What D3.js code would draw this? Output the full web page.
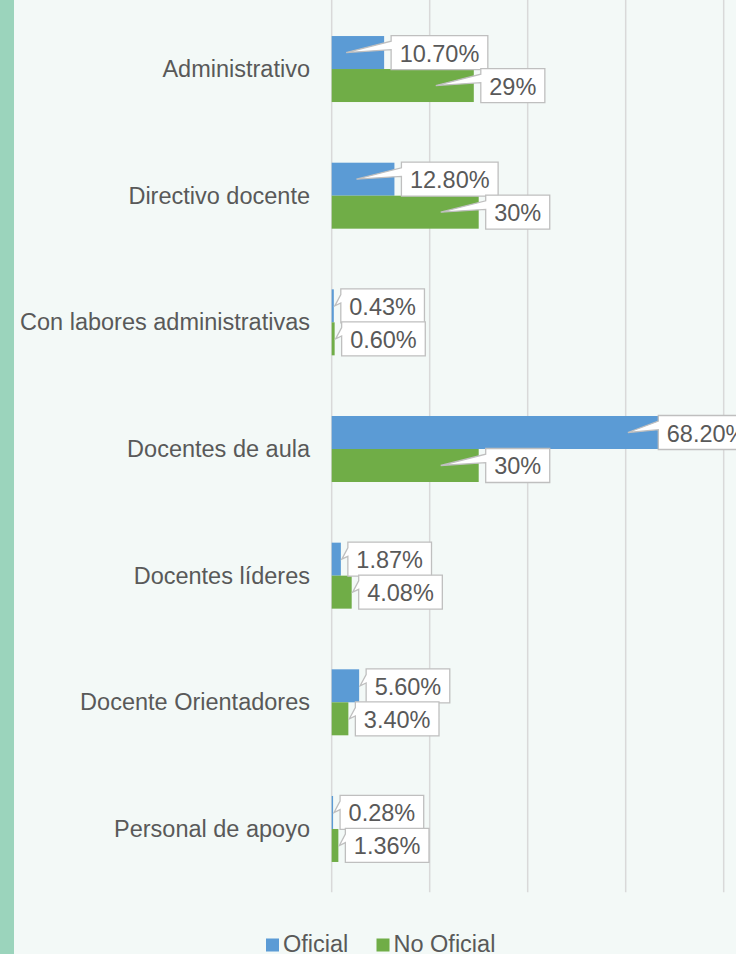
<!DOCTYPE html>
<html>
<head>
<meta charset="utf-8">
<script src="https://cdn.jsdelivr.net/npm/d3@7"></script>
<style>
  html, body { margin: 0; padding: 0; background: #f3f9f7; }
  svg { display: block; font-family: "Liberation Sans", Arial, sans-serif; }
</style>
</head>
<body>
<svg id="chart" width="736" height="954"></svg>
<script>
const categories = ["Administrativo", "Directivo docente", "Con labores administrativas", "Docentes de aula", "Docentes líderes", "Docente Orientadores", "Personal de apoyo"];
const seriesNames = ["Oficial", "No Oficial"];
const oficial = [10.7, 12.8, 0.43, 68.2, 1.87, 5.6, 0.28];
const noOficial = [29, 30, 0.6, 30, 4.08, 3.4, 1.36];
const oficialLabels = ["10.70%", "12.80%", "0.43%", "68.20%", "1.87%", "5.60%", "0.28%"];
const noOficialLabels = ["29%", "30%", "0.60%", "30%", "4.08%", "3.40%", "1.36%"];
const xTicks = [0, 20, 40, 60, 80, 100];

const colors = { "Oficial": "#5b9bd5", "No Oficial": "#70ad47" };
const textColor = "#595959";
const fontSize = 23.5;

const svg = d3.select("#chart");
const width = 736, height = 954;

// left teal strip
svg.append("rect").attr("x", 0).attr("y", 0).attr("width", 14).attr("height", height).attr("fill", "#9bd4bc");

const x = d3.scaleLinear().domain([0, 100]).range([331.7, 821.7]);
const y = d3.scaleBand().domain(categories).range([5.7, 892.3]).paddingInner(0.479).paddingOuter(0.2395);
const ySub = d3.scaleBand().domain(seriesNames).range([0, y.bandwidth()]);

// gridlines
svg.append("g").selectAll("line")
  .data(xTicks)
  .join("line")
  .attr("x1", (d) => x(d)).attr("x2", (d) => x(d))
  .attr("y1", 0).attr("y2", 892.3)
  .attr("stroke", "#d9d9d9").attr("stroke-width", 1.5);

// category labels
svg.append("g").selectAll("text")
  .data(categories)
  .join("text")
  .attr("x", 310)
  .attr("y", (d) => y(d) + y.bandwidth() / 2)
  .attr("text-anchor", "end")
  .attr("dominant-baseline", "central")
  .attr("fill", textColor)
  .attr("font-size", fontSize)
  .text((d) => d);

const rows = [];
categories.forEach((cat, i) => {
  rows.push({ cat, series: "Oficial", value: oficial[i], label: oficialLabels[i] });
  rows.push({ cat, series: "No Oficial", value: noOficial[i], label: noOficialLabels[i] });
});

// bars
svg.append("g").selectAll("rect")
  .data(rows)
  .join("rect")
  .attr("x", x(0))
  .attr("y", (d) => y(d.cat) + ySub(d.series))
  .attr("width", (d) => x(d.value) - x(0))
  .attr("height", ySub.bandwidth())
  .attr("fill", (d) => colors[d.series]);

// callout labels
const labelLayer = svg.append("g");
const measure = svg.append("text").attr("font-size", fontSize).attr("visibility", "hidden");
rows.forEach((d) => {
  measure.text(d.label);
  const tw = measure.node().getComputedTextLength();
  const bw = tw + 17, bh = 34;
  const barEnd = x(d.value);
  const barW = barEnd - x(0);
  const cy = y(d.cat) + ySub(d.series) + ySub.bandwidth() / 2;
  const bx = Math.min(barEnd + 7, 755 - bw);
  const by = cy - bh / 2;
  const tipX = barW > 40 ? barEnd - 38 : barEnd + 1;
  const tipY = cy;
  const p = d3.path();
  p.moveTo(bx, by);
  p.lineTo(bx + bw, by);
  p.lineTo(bx + bw, by + bh);
  p.lineTo(bx, by + bh);
  p.lineTo(bx, by + bh * 5 / 12);
  p.lineTo(tipX, tipY);
  p.lineTo(bx, by + bh * 2 / 12);
  p.closePath();
  labelLayer.append("path")
    .attr("d", p.toString())
    .attr("fill", "#ffffff")
    .attr("stroke", "#bfbfbf")
    .attr("stroke-width", 1.3);
  labelLayer.append("text")
    .attr("x", bx + bw / 2)
    .attr("y", cy + 1)
    .attr("text-anchor", "middle")
    .attr("dominant-baseline", "central")
    .attr("fill", textColor)
    .attr("font-size", fontSize)
    .text(d.label);
});
measure.remove();

// legend
const legendItems = [
  { name: "Oficial", sx: 266 },
  { name: "No Oficial", sx: 376.5 }
];
const legend = svg.append("g");
legendItems.forEach((item) => {
  legend.append("rect")
    .attr("x", item.sx).attr("y", 938.5)
    .attr("width", 13).attr("height", 13)
    .attr("fill", colors[item.name]);
  legend.append("text")
    .attr("x", item.sx + 17)
    .attr("y", 943.5)
    .attr("dominant-baseline", "central")
    .attr("fill", textColor)
    .attr("font-size", fontSize)
    .text(item.name);
});
</script>
</body>
</html>
